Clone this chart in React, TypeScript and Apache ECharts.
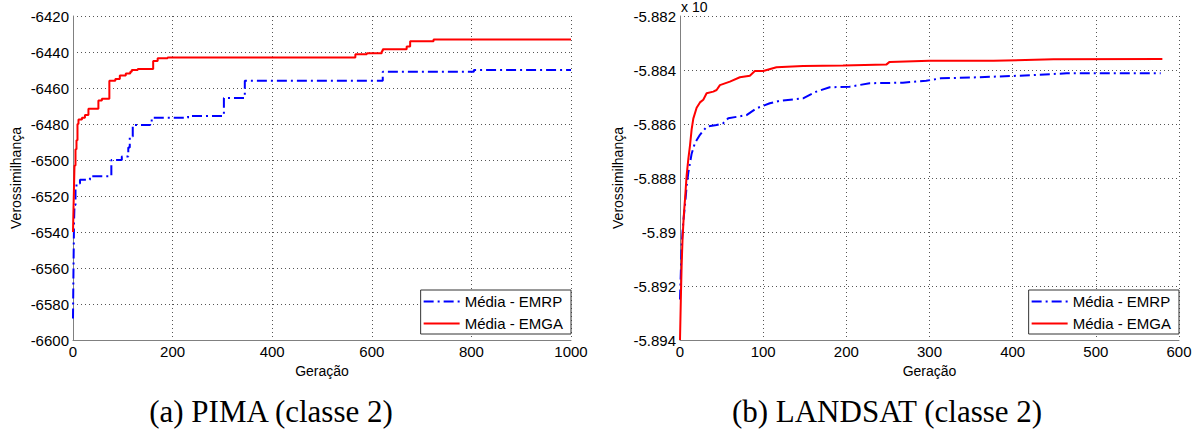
import React, { useEffect, useRef } from "react";
import * as echarts from "echarts";

// ---------- Data ----------
const seriesNames = ["Média - EMRP", "Média - EMGA"];
const captions = ["(a) PIMA (classe 2)", "(b) LANDSAT (classe 2)"];

// PIMA (classe 2) — best-so-far values (step changes)
const pimaEmrpGen = [0, 1, 2, 3, 5, 7, 14, 34, 77, 98, 111, 114, 120, 155, 158, 231, 303, 345, 622, 805, 1000];
const pimaEmrpVal = [-6588, -6560, -6535, -6525, -6515, -6513, -6511, -6509, -6500, -6498, -6493, -6487, -6480.5, -6479.5, -6476.5, -6475.5, -6465.5, -6456, -6451, -6450, -6450];

const pimaEmgaGen = [0, 1, 2, 3, 5, 7, 9, 11, 18, 24, 31, 51, 58, 73, 85, 94, 106, 115, 118, 130, 161, 170, 190, 567, 590, 620, 622, 670, 677, 724, 1000];
const pimaEmgaVal = [-6540, -6527, -6515, -6503, -6494, -6489, -6480, -6477.5, -6476.5, -6475, -6471.5, -6467, -6466, -6456, -6455, -6453, -6452, -6451, -6450, -6449.5, -6445, -6443.5, -6443, -6441.3, -6440.7, -6439.5, -6438.5, -6437, -6434, -6433, -6433];

// LANDSAT (classe 2)
const landEmrpGen = [0, 2, 4, 6, 8, 10, 14, 18, 24, 32, 44, 52, 58, 80, 92, 108, 120, 148, 164, 180, 204, 228, 268, 296, 313, 349, 425, 465, 578];
const landEmrpVal = [-5.8925, -5.8905, -5.8896, -5.889, -5.8883, -5.8878, -5.8871, -5.8867, -5.8864, -5.8861, -5.88604, -5.88597, -5.88579, -5.88567, -5.88542, -5.88523, -5.88514, -5.88505, -5.8848, -5.88464, -5.88462, -5.88449, -5.88447, -5.8844, -5.88431, -5.88428, -5.88419, -5.88412, -5.88412];

const landEmgaGen = [0, 1, 2, 3, 4, 5, 6, 8, 10, 12, 14, 16, 20, 24, 28, 32, 40, 44, 48, 60, 72, 84, 90, 100, 116, 148, 196, 248, 252, 300, 377, 449, 580];
const landEmgaVal = [-5.894, -5.8925, -5.8912, -5.8903, -5.8897, -5.8892, -5.8888, -5.8879, -5.8873, -5.8868, -5.8862, -5.8858, -5.8854, -5.8852, -5.8851, -5.88486, -5.8848, -5.88474, -5.88456, -5.88443, -5.88427, -5.88421, -5.88404, -5.88404, -5.8839, -5.88385, -5.88383, -5.8838, -5.8837, -5.88366, -5.88366, -5.8836, -5.88359];

const pimaXTicks = { min: 0, max: 1000, interval: 200 };
const pimaYTicks = { min: -6600, max: -6420, interval: 20 };
const landXTicks = { min: 0, max: 600, interval: 100 };
const landYTicks = { min: -5.894, max: -5.882, interval: 0.002 };

// ---------- Styling ----------
const SANS = "'Liberation Sans', Arial, sans-serif";
const SERIF = "'Liberation Serif', 'Times New Roman', serif";
const BLUE = "#0000ff";
const RED = "#ff0000";
const DASHDOT = [10, 4, 2, 4];

const zip = (xs: number[], ys: number[]) => xs.map((x, i) => [x, ys[i]]);
const fmt = (v: number) => String(parseFloat(v.toFixed(4)));

function makeX(gridIndex: number, t: { min: number; max: number; interval: number }) {
  return {
    type: "value",
    gridIndex,
    min: t.min,
    max: t.max,
    interval: t.interval,
    name: "Geração",
    nameLocation: "middle",
    nameGap: 17,
    nameTextStyle: { color: "#000", fontSize: 14, fontFamily: SANS },
    axisLine: { show: true, onZero: false, lineStyle: { color: "#808080", width: 1 } },
    axisTick: { show: false },
    axisLabel: { color: "#000", fontSize: 15, fontFamily: SANS, margin: 4, formatter: fmt },
    splitLine: { show: true, lineStyle: { color: "#555", width: 1, type: [1, 3] } },
  };
}

function makeY(gridIndex: number, t: { min: number; max: number; interval: number }, nameGap: number) {
  return {
    type: "value",
    gridIndex,
    min: t.min,
    max: t.max,
    interval: t.interval,
    name: "Verossimilhança",
    nameLocation: "middle",
    nameGap,
    nameTextStyle: { color: "#000", fontSize: 14, fontFamily: SANS },
    axisLine: { show: true, onZero: false, lineStyle: { color: "#808080", width: 1 } },
    axisTick: { show: false },
    axisLabel: { color: "#000", fontSize: 15, fontFamily: SANS, margin: 4, formatter: fmt },
    splitLine: { show: true, lineStyle: { color: "#555", width: 1, type: [1, 3] } },
  };
}

function makeLegend(right: number) {
  return {
    data: seriesNames,
    orient: "vertical",
    right,
    bottom: 100,
    itemWidth: 36,
    itemHeight: 14,
    itemGap: 7,
    padding: [4, 8, 3, 2],
    borderColor: "#333",
    borderWidth: 1,
    backgroundColor: "#fff",
    selectedMode: false,
    itemStyle: { opacity: 0 },
    textStyle: { color: "#000", fontSize: 15, fontFamily: SANS },
  };
}

export default function App() {
  const ref = useRef<HTMLDivElement>(null);

  useEffect(() => {
    document.body.style.margin = "0";
    if (!ref.current) return;
    const chart = echarts.init(ref.current, undefined, { renderer: "svg" });
    chart.setOption({
      animation: false,
      backgroundColor: "#fff",
      grid: [
        { left: 73, top: 16, width: 498, height: 324 },
        { left: 680, top: 16, width: 499, height: 324 },
      ],
      xAxis: [makeX(0, pimaXTicks), makeX(1, landXTicks)],
      yAxis: [makeY(0, pimaYTicks, 50), makeY(1, landYTicks, 55)],
      legend: [makeLegend(1204 - 571), makeLegend(1204 - 1179)],
      series: [
        {
          name: seriesNames[0], type: "line", xAxisIndex: 0, yAxisIndex: 0,
          data: zip(pimaEmrpGen, pimaEmrpVal), step: "end", symbol: "none", showSymbol: false,
          itemStyle: { color: BLUE }, lineStyle: { color: BLUE, width: 2, type: DASHDOT },
        },
        {
          name: seriesNames[1], type: "line", xAxisIndex: 0, yAxisIndex: 0,
          data: zip(pimaEmgaGen, pimaEmgaVal), step: "end", symbol: "none", showSymbol: false,
          itemStyle: { color: RED }, lineStyle: { color: RED, width: 2 },
        },
        {
          name: seriesNames[0], type: "line", xAxisIndex: 1, yAxisIndex: 1,
          data: zip(landEmrpGen, landEmrpVal), symbol: "none", showSymbol: false,
          itemStyle: { color: BLUE }, lineStyle: { color: BLUE, width: 2, type: DASHDOT },
        },
        {
          name: seriesNames[1], type: "line", xAxisIndex: 1, yAxisIndex: 1,
          data: zip(landEmgaGen, landEmgaVal), symbol: "none", showSymbol: false,
          itemStyle: { color: RED }, lineStyle: { color: RED, width: 2 },
        },
      ],
      graphic: [
        {
          type: "text", x: 271, y: 411,
          style: { text: captions[0], font: `31px ${SERIF}`, fill: "#000", textAlign: "center", textVerticalAlign: "middle", align: "center", verticalAlign: "middle" },
        },
        {
          type: "text", x: 887, y: 411,
          style: { text: captions[1], font: `31px ${SERIF}`, fill: "#000", textAlign: "center", textVerticalAlign: "middle", align: "center", verticalAlign: "middle" },
        },
        {
          type: "text", x: 681, y: 0,
          style: { text: "x 10", font: `14px ${SANS}`, fill: "#000", textAlign: "left", textVerticalAlign: "top", align: "left", verticalAlign: "top" },
        },
      ],
    });
    return () => chart.dispose();
  }, []);

  return <div ref={ref} style={{ width: 1204, height: 434 }} />;
}
